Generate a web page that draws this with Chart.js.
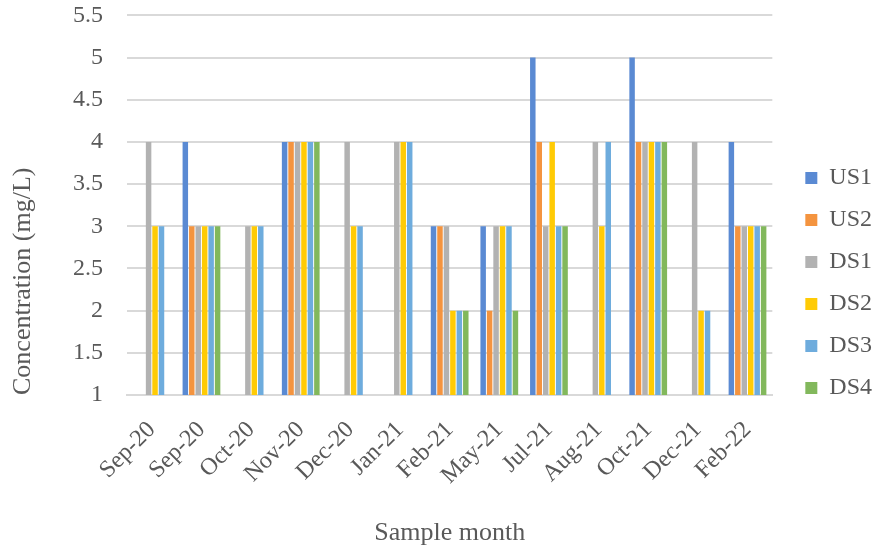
<!DOCTYPE html>
<html><head><meta charset="utf-8">
<script src="https://cdn.jsdelivr.net/npm/chart.js@4"></script>
<style>html,body{margin:0;padding:0;background:#fff}#wrap{width:877px;height:552px}</style>
</head><body><div id="wrap"><canvas id="c" width="877" height="552"></canvas></div>
<script>
const categories = ["Sep-20","Sep-20","Oct-20","Nov-20","Dec-20","Jan-21","Feb-21","May-21","Jul-21","Aug-21","Oct-21","Dec-21","Feb-22"];
const US1 = [null,4,null,4,null,null,3,3,5,null,5,null,4];
const US2 = [null,3,null,4,null,null,3,2,4,null,4,null,3];
const DS1 = [4,3,3,4,4,4,3,3,3,4,4,4,3];
const DS2 = [3,3,3,4,3,4,2,3,4,3,4,2,3];
const DS3 = [3,3,3,4,3,4,2,3,3,4,4,2,3];
const DS4 = [null,3,null,4,null,null,2,2,3,null,4,null,3];
const seriesNames = ["US1","US2","DS1","DS2","DS3","DS4"];
const seriesData = [US1,US2,DS1,DS2,DS3,DS4];
const colors = ["#5A8AD3","#F4943F","#B2B2B2","#FFCB05","#6EACDD","#82B85C"];
const yTicks = [1,1.5,2,2.5,3,3.5,4,4.5,5,5.5];

const font = "'Liberation Serif','Times New Roman',serif";
Chart.defaults.font.family = font;
Chart.defaults.color = "#595959";

const LEG_EXTRA = 10, LEG_SHIFT_X = 15, LEG_SHIFT_Y = 20;
const legendAdjust = {
  id: 'legendAdjust',
  beforeUpdate(chart) {
    const lg = chart.legend;
    if (lg && !lg._wrapped) {
      const f = lg.fit.bind(lg);
      lg.fit = function () { f(); this.width += LEG_EXTRA; };
      lg._wrapped = true;
    }
  },
  afterLayout(chart) {
    const lg = chart.legend;
    if (lg) { lg.left += LEG_SHIFT_X; lg.right += LEG_SHIFT_X; lg.top += LEG_SHIFT_Y; lg.bottom += LEG_SHIFT_Y; }
  }
};

new Chart(document.getElementById('c'), {
  type: 'bar',
  data: {
    labels: categories,
    datasets: seriesNames.map((n,i)=>({
      label: n, data: seriesData[i],
      backgroundColor: colors[i], borderWidth: 0,
      categoryPercentage: 0.78, barPercentage: 0.85
    }))
  },
  plugins: [legendAdjust],
  options: {
    responsive: false, animation: false,
    layout: { padding: { left: 0, right: 0, top: -23, bottom: 3 } },
    plugins: {
      legend: { position: 'right', align: 'center',
        labels: { boxWidth: 12, boxHeight: 12, padding: 18, font: { size: 24 }, color: "#595959" } },
      tooltip: { enabled: false }
    },
    scales: {
      x: {
        grid: { display: false },
        border: { display: true, color: "#d9d9d9", width: 2 },
        afterFit: (ax) => { ax.height = 154; },
        ticks: { minRotation: 45, maxRotation: 45, font: { size: 24 }, color: "#595959", padding: 13 },
        title: { display: true, text: "Sample month", font: { size: 26 }, color: "#595959", padding: { top: 0, bottom: 0 } }
      },
      y: {
        min: 1, max: 5.5,
        afterBuildTicks: (ax) => { ax.ticks = yTicks.map(v=>({value:v})); },
        afterFit: (ax) => { ax.width = 127; },
        grid: { color: "#d9d9d9", lineWidth: 2, drawTicks: true, tickLength: 23, tickColor: "rgba(0,0,0,0)" },
        border: { display: false },
        ticks: { font: { size: 24 }, color: "#595959", padding: 1, callback: (v) => String(v) },
        title: { display: true, align: 'start', text: "Concentration (mg/L)", font: { size: 26 }, color: "#595959", padding: { top: 8, bottom: 4 } }
      }
    }
  }
});
</script></body></html>
